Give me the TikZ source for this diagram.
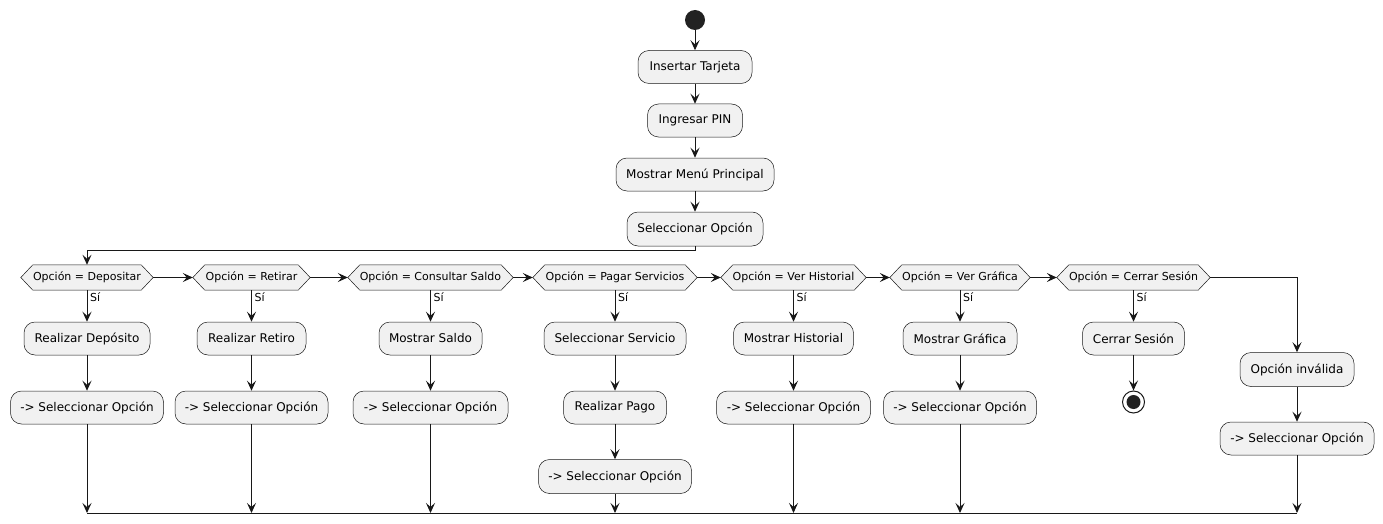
\documentclass[tikz,border=0pt]{standalone}
\usepackage{fontspec}
\setmainfont{DejaVu Sans}
\usetikzlibrary{arrows.meta,backgrounds}
\definecolor{boxfill}{HTML}{F1F1F1}
\definecolor{ink}{HTML}{181818}
\definecolor{dot}{HTML}{222222}
\tikzset{
  actbox/.style={rectangle, rounded corners=11pt, draw=ink, line width=0.5pt, fill=boxfill,
    minimum height=33pt, inner sep=0pt, font=\fontsize{12}{14}\selectfont},
  hexnode/.style={rectangle, inner sep=0pt, minimum height=25pt, font=\fontsize{11}{13}\selectfont},
  hexline/.style={draw=ink, line width=0.5pt, fill=boxfill},
  yeslabel/.style={anchor=west, inner sep=0pt, font=\fontsize{11}{13}\selectfont},
  arr/.style={draw=ink, line width=1pt, -{Stealth[length=10pt,width=9pt,inset=4pt]}},
  plain/.style={draw=ink, line width=1pt},
  startnode/.style={circle, fill=dot, minimum size=20pt, inner sep=0pt},
  stopnode/.style={circle, draw=ink, line width=1pt, fill=white, minimum size=22pt, inner sep=0pt,
    path picture={\fill[dot] (path picture bounding box.center) circle (7pt);}}
}
\begin{document}
\begin{tikzpicture}[x=1pt,y=-1pt]
\useasboundingbox (0,0) rectangle (1383,524);
% top column
\node[startnode] (start) at (695,20) {};
\node[actbox, minimum width=114pt] (n1) at (695,67) {Insertar Tarjeta};
\node[actbox, minimum width=95pt] (n2) at (695,120.5) {Ingresar PIN};
\node[actbox, minimum width=158pt] (n3) at (695,174.5) {Mostrar Menú Principal};
\node[actbox, minimum width=136pt, minimum height=34pt] (n4) at (695,229) {Seleccionar Opción};
% decisions
\node[hexnode, minimum width=132pt] (d1) at (87,277.5) {Opción = Depositar};
\node[hexnode, minimum width=117pt] (d2) at (251.5,277.5) {Opción = Retirar};
\node[hexnode, minimum width=165pt] (d3) at (430.5,277.5) {Opción = Consultar Saldo};
\node[hexnode, minimum width=164pt] (d4) at (615,277.5) {Opción = Pagar Servicios};
\node[hexnode, minimum width=145pt] (d5) at (793.5,277.5) {Opción = Ver Historial};
\node[hexnode, minimum width=140pt] (d6) at (960,277.5) {Opción = Ver Gráfica};
\node[hexnode, minimum width=153pt] (d7) at (1133.5,277.5) {Opción = Cerrar Sesión};
\begin{scope}[on background layer]
\foreach \d in {d1,d2,d3,d4,d5,d6,d7}
  \path[hexline] (\d.west) -- ([xshift=12pt]\d.north west) -- ([xshift=-12pt]\d.north east)
    -- (\d.east) -- ([xshift=-12pt]\d.south east) -- ([xshift=12pt]\d.south west) -- cycle;
\end{scope}
% yes labels
\foreach \d/\s in {d1/s1,d2/s2,d3/s3,d4/s4,d5/s5,d6/s6,d7/s7}
  \node[yeslabel] (\s) at ([xshift=3pt,yshift=-6.5pt]\d.south) {Sí};
% row 1
\node[actbox, minimum width=126pt] (a1) at (87,338.5) {Realizar Depósito};
\node[actbox, minimum width=109pt] (a2) at (251.5,338.5) {Realizar Retiro};
\node[actbox, minimum width=103pt] (a3) at (430.5,338.5) {Mostrar Saldo};
\node[actbox, minimum width=142pt] (a4) at (615,338.5) {Seleccionar Servicio};
\node[actbox, minimum width=120pt] (a5) at (793.5,338.5) {Mostrar Historial};
\node[actbox, minimum width=114pt] (a6) at (960,338.5) {Mostrar Gráfica};
\node[actbox, minimum width=102pt] (a7) at (1133.5,338.5) {Cerrar Sesión};
% row 2
\node[actbox, minimum width=153pt] (b1) at (87,407.5) {-> Seleccionar Opción};
\node[actbox, minimum width=153pt] (b2) at (251.5,407.5) {-> Seleccionar Opción};
\node[actbox, minimum width=155pt] (b3) at (430.5,407.5) {-> Seleccionar Opción};
\node[actbox, minimum width=103pt] (b4) at (615,407.5) {Realizar Pago};
\node[actbox, minimum width=154pt] (b5) at (793.5,407.5) {-> Seleccionar Opción};
\node[actbox, minimum width=153pt] (b6) at (960,407.5) {-> Seleccionar Opción};
\node[stopnode] (stop) at (1133.5,402) {};
% row 3
\node[actbox, minimum width=153pt, minimum height=34pt] (e4) at (615,476.5) {-> Seleccionar Opción};
% invalid column
\node[actbox, minimum width=114pt, minimum height=34pt] (inv) at (1297,369.5) {Opción inválida};
\node[actbox, minimum width=154pt] (f8) at (1297,438.5) {-> Seleccionar Opción};
% merge coordinates
\coordinate (m1) at (87,513);
\coordinate (m2) at (251.5,513);
\coordinate (m3) at (430.5,513);
\coordinate (m4) at (615,513);
\coordinate (m5) at (793.5,513);
\coordinate (m6) at (960,513);
\coordinate (m8) at (1297,513);
% connectors
\draw[arr] (start) -- (n1);
\draw[arr] (n1) -- (n2);
\draw[arr] (n2) -- (n3);
\draw[arr] (n3) -- (n4);
\draw[arr] (n4.south) -- ++(0,4) -| (d1.north);
\draw[arr] (d1.east) -- (d2.west);
\draw[arr] (d2.east) -- (d3.west);
\draw[arr] (d3.east) -- (d4.west);
\draw[arr] (d4.east) -- (d5.west);
\draw[arr] (d5.east) -- (d6.west);
\draw[arr] (d6.east) -- (d7.west);
\draw[arr] (d7.east) -| (inv.north);
\foreach \d/\a in {d1/a1,d2/a2,d3/a3,d4/a4,d5/a5,d6/a6,d7/a7}
  \draw[arr] (\d.south) -- (\a.north);
\foreach \a/\b in {a1/b1,a2/b2,a3/b3,a4/b4,a5/b5,a6/b6,a7/stop,b4/e4,inv/f8}
  \draw[arr] (\a) -- (\b);
\foreach \b/\m in {b1/m1,b2/m2,b3/m3,e4/m4,b5/m5,b6/m6,f8/m8}
  \draw[arr] (\b.south) -- (\m);
\draw[plain] (m1) -- (m8);
\end{tikzpicture}
\end{document}
